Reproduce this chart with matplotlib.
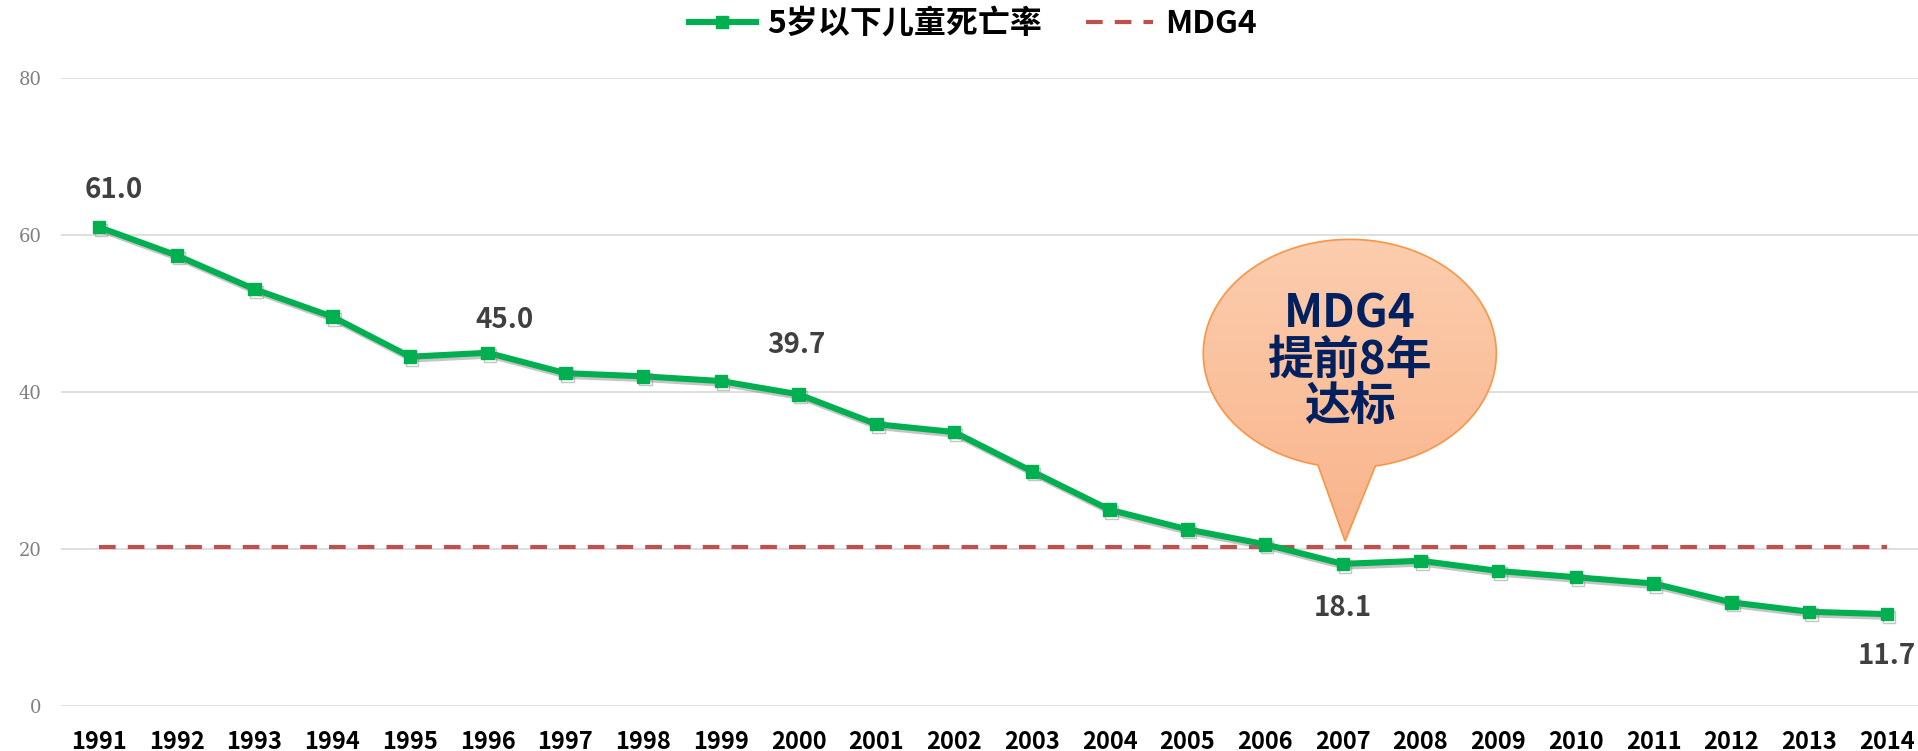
import numpy as np
import matplotlib.pyplot as plt
import matplotlib.patheffects as pe
from matplotlib.patches import Polygon
from matplotlib.lines import Line2D
from matplotlib.colors import LinearSegmentedColormap

plt.rcParams['font.family'] = ['Noto Sans CJK SC', 'DejaVu Sans']

# data
years = [str(y) for y in range(1991, 2015)]
u5mr = [61.0, 57.4, 53.1, 49.6, 44.5, 45.0, 42.4, 42.0, 41.4, 39.7, 35.9, 34.9,
        29.9, 25.0, 22.5, 20.6, 18.1, 18.5, 17.2, 16.4, 15.6, 13.2, 12.0, 11.7]
mdg4 = [20.3] * len(years)
# labelled points: year -> offset in pixels
label_years = ['1991', '1996', '2000', '2007', '2014']
label_offsets = [(15, 37), (17, 33), (-2, 49), (0, -44), (0, -42)]

green = '#00B050'
red = '#C0504D'

fig = plt.figure(figsize=(19.18, 7.51), dpi=100)
ax = fig.add_axes([0.0318, 0.0600, 0.9682, 0.8360])

x = np.arange(len(years))

ax.plot(x, mdg4, color=red, lw=3, dashes=(4, 2.9), zorder=3)
ax.plot(x, u5mr, color=green, lw=4.4, marker='s', markersize=9, zorder=4,
        path_effects=[pe.SimpleLineShadow(offset=(1.5, -2), shadow_color='gray', alpha=0.45),
                      pe.Normal()])

for yr, (dx, dy) in zip(label_years, label_offsets):
    i = years.index(yr)
    ax.annotate(f'{u5mr[i]:.1f}', (i, u5mr[i]), xytext=(dx, dy), textcoords='offset pixels',
                ha='center', va='center', fontsize=20, fontweight='bold', color='#404040',
                annotation_clip=False)

# callout bubble
cx, cy, a, b = 16.09, 44.9, 1.885, 14.55
t_left = -np.arccos((15.68 - cx) / a)
t_right = -np.arccos((16.42 - cx) / a)
t = np.linspace(t_right, t_left + 2 * np.pi, 200)
pts = np.column_stack([cx + a * np.cos(t), cy + b * np.sin(t)])
pts = np.vstack([pts, [16.03, 21.0]])
bubble = Polygon(pts, closed=True, facecolor='none', edgecolor='#F79646', lw=1.2, zorder=6)
ax.add_patch(bubble)
grad = np.linspace(0, 1, 256).reshape(-1, 1)
cmap = LinearSegmentedColormap.from_list('peach', ['#F9B48B', '#FCCDAE'])
im = ax.imshow(grad, cmap=cmap, extent=[cx - a, cx + a, 21.0, cy + b], origin='lower',
               aspect='auto', zorder=5)
im.set_clip_path(bubble)
ax.text(cx, 44.0, 'MDG4\n提前8年\n达标', ha='center', va='center', fontsize=33,
        fontweight='bold', color='#002060', linespacing=1.0, zorder=7)

ax.set_xlim(-0.49, 23.4)
ax.set_ylim(0, 80)
ax.set_xticks(x)
ax.set_xticklabels(years, fontsize=17, fontweight='bold', color='black')
ax.set_yticks([0, 20, 40, 60, 80])
ax.set_yticklabels(['0', '20', '40', '60', '80'], family='DejaVu Serif', fontsize=13,
                   color='#7F7F7F')
ax.tick_params(axis='x', length=0, pad=17)
ax.tick_params(axis='y', length=0, pad=14)
ax.grid(axis='y', color='#D9D9D9', lw=1.2)
ax.set_axisbelow(True)
for s in ax.spines.values():
    s.set_visible(False)

handles = [Line2D([], [], color=green, lw=4.4, marker='s', markersize=9),
           Line2D([], [], color=red, lw=3, dashes=(4, 2.9))]
fig.legend(handles, ['5岁以下儿童死亡率', 'MDG4'], loc='center', bbox_to_anchor=(0.507, 0.968),
           ncol=2, frameon=False, prop={'size': 23, 'weight': 'bold'}, handlelength=2.1,
           columnspacing=1.4, handletextpad=0.35)

fig.savefig('out.png', dpi=100)
